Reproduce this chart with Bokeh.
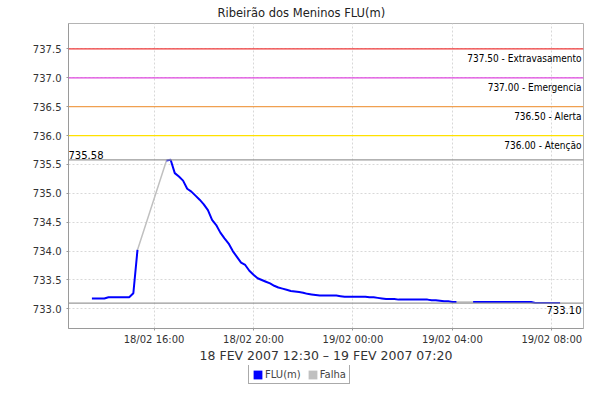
import numpy as np
import pandas as pd
from bokeh.plotting import figure
from bokeh.layouts import column
from bokeh.models import (Range1d, Span, Label, Legend, LegendItem, FixedTicker,
                          ColumnDataSource)
from bokeh.embed import file_html
from bokeh.resources import INLINE

# ---------------- data ----------------
title_text = "Ribeirão dos Meninos FLU(m)"
x_axis_label = "18 FEV 2007 12:30 \u2013 19 FEV 2007 07:20"
series_name = "FLU(m)"
gap_name = "Falha"

start_time = "2007-02-18 13:30"
step_minutes = 10
# level readings every 10 minutes (None = no data / "Falha")
flu_values = [
    # 13:30 .. 15:20
    733.18, 733.18, 733.18, 733.18, 733.20, 733.20, 733.20, 733.20, 733.20, 733.20, 733.27, 734.02,
    # 15:30 .. 16:20 (gap)
    None, None, None, None, None, None,
    # 16:30 .. 17:20
    735.57, 735.58, 735.35, 735.29, 735.22, 735.08,
    # 17:30 .. 18:20
    735.03, 734.96, 734.89, 734.81, 734.71, 734.54,
    # 18:30 .. 19:20
    734.45, 734.32, 734.22, 734.13, 734.00, 733.90,
    # 19:30 .. 20:20
    733.80, 733.76, 733.66, 733.59, 733.53, 733.50,
    # 20:30 .. 21:20
    733.47, 733.44, 733.40, 733.37, 733.35, 733.33,
    # 21:30 .. 22:20
    733.31, 733.30, 733.29, 733.28, 733.26, 733.25,
    # 22:30 .. 23:20
    733.24, 733.23, 733.23, 733.23, 733.23, 733.23,
    # 23:30 .. 00:20
    733.22, 733.21, 733.21, 733.21, 733.21, 733.21,
    # 00:30 .. 01:20
    733.21, 733.20, 733.20, 733.19, 733.18, 733.17,
    # 01:30 .. 02:20
    733.17, 733.17, 733.16, 733.16, 733.16, 733.16,
    # 02:30 .. 03:20
    733.16, 733.16, 733.16, 733.16, 733.15, 733.15,
    # 03:30 .. 04:10
    733.14, 733.13, 733.13, 733.12, 733.12,
    # 04:20 .. 04:40 (gap)
    None, None, None,
    # 04:50 .. 05:40
    733.12, 733.12, 733.12, 733.12, 733.12, 733.12,
    # 05:50 .. 06:40
    733.12, 733.12, 733.12, 733.12, 733.12, 733.12,
    # 06:50 .. 07:40
    733.12, 733.12, 733.12, 733.10, 733.10, 733.10,
    # 07:50 .. 08:20
    733.10, 733.10, 733.10, 733.10,
]

limit_values = [737.50, 737.00, 736.50, 736.00]
limit_names = ["Extravasamento", "Emergencia", "Alerta", "Atenção"]
limit_colors = ["#f03a3a", "#e048e0", "#f0a050", "#ffe100"]

y_ticks = [733.0, 733.5, 734.0, 734.5, 735.0, 735.5, 736.0, 736.5, 737.0, 737.5]
y_tick_labels = ["733.0", "733.5", "734.0", "734.5", "735.0", "735.5", "736.0", "736.5", "737.0", "737.5"]
x_tick_times = ["2007-02-18 16:00", "2007-02-18 20:00", "2007-02-19 00:00",
                "2007-02-19 04:00", "2007-02-19 08:00"]
x_tick_labels = ["18/02 16:00", "18/02 20:00", "19/02 00:00", "19/02 04:00", "19/02 08:00"]

# ---------------- derived ----------------
times = pd.date_range(start_time, periods=len(flu_values), freq=f"{step_minutes}min")
t_ms = (times.astype("int64") // 10**6).to_numpy().astype(float)
vals = np.array([np.nan if v is None else v for v in flu_values], dtype=float)

# gap (Falha) segments connect the last reading before and first after each gap
gx, gy = [], []
valid = ~np.isnan(vals)
i = 0
n = len(vals)
while i < n:
    if not valid[i]:
        j = i
        while j < n and not valid[j]:
            j += 1
        if i > 0 and j < n:
            gx += [t_ms[i - 1], t_ms[j], np.nan]
            gy += [vals[i - 1], vals[j], np.nan]
        i = j
    else:
        i += 1
gx = np.array(gx, dtype=float)
gy = np.array(gy, dtype=float)

vmax = float(np.nanmax(vals))
vmin = float(np.nanmin(vals))

span_t = t_ms[-1] - t_ms[0]
x_start = float(t_ms[0] - span_t * 0.05)
x_end = float(t_ms[-1] + span_t * 0.05)
lo = min(vmin, min(limit_values))
hi = max(vmax, max(limit_values))
y_start = lo - (hi - lo) * 0.1
y_end = hi + (hi - lo) * 0.1

FONT = "DejaVu Sans"
FONT_C = "DejaVu Sans Condensed"

p = figure(width=584, height=365, x_axis_type="datetime",
           x_range=Range1d(x_start, x_end), y_range=Range1d(y_start, y_end),
           output_backend="svg", toolbar_location=None,
           min_border_left=68, min_border_right=1, min_border_top=23, min_border_bottom=30)

p.title.text = title_text
p.title.align = "left"
p.title.offset = 149
p.title.text_font = FONT
p.title.text_font_size = "11.5px"
p.title.text_font_style = "normal"
p.title.text_color = "#222222"
p.title.standoff = 7

p.background_fill_color = "white"
p.border_fill_color = "white"
p.outline_line_color = "#b4b4b4"
p.outline_line_width = 1

for g in (p.xgrid, p.ygrid):
    g.grid_line_color = "#d8d8d8"
    g.grid_line_dash = "2 2"
    g.grid_line_width = 1

# axes
p.yaxis.ticker = FixedTicker(ticks=y_ticks)
p.yaxis.major_label_overrides = {t: l for t, l in zip(y_ticks, y_tick_labels)}
tick_ms = [int(pd.Timestamp(t).value // 10**6) for t in x_tick_times]
p.xaxis.ticker = FixedTicker(ticks=tick_ms)
p.xaxis.major_label_overrides = {t: l for t, l in zip(tick_ms, x_tick_labels)}

for ax in (p.xaxis, p.yaxis):
    ax.axis_line_color = "#9a9a9a"
    ax.major_tick_line_color = "#9a9a9a"
    ax.major_tick_out = 2
    ax.major_tick_in = 0
    ax.minor_tick_out = 0
    ax.minor_tick_in = 0
    ax.major_label_text_font = FONT
    ax.major_label_text_font_size = "10px"
    ax.major_label_text_color = "#333333"
    ax.major_label_standoff = 5
p.xaxis.major_label_standoff = 3

p.xaxis.axis_label = x_axis_label
p.xaxis.axis_label_text_font = FONT
p.xaxis.axis_label_text_font_size = "12.5px"
p.xaxis.axis_label_text_font_style = "normal"
p.xaxis.axis_label_text_color = "#333333"
p.xaxis.axis_label_standoff = 0

# data lines
r_gap = p.line(x="x", y="y", source=ColumnDataSource(dict(x=gx, y=gy)),
               line_color="#c0c0c0", line_width=1.5)
r_flu = p.line(x="x", y="y", source=ColumnDataSource(dict(x=t_ms, y=vals)),
               line_color="#0000ff", line_width=2)

# max / min markers
for v, align, base, yoff in ((vmax, "left", "bottom", 1), (vmin, "right", "top", -3)):
    p.add_layout(Span(location=v, dimension="width", line_color="#999999", line_width=1.2))
    p.add_layout(Label(x=x_start if align == "left" else x_end, y=v, text=f"{v:.2f}",
                       text_align=align, text_baseline=base, y_offset=yoff,
                       x_offset=0 if align == "left" else -2,
                       text_font=FONT, text_font_size="10px", text_color="black"))

# threshold lines
for v, name, c in zip(limit_values, limit_names, limit_colors):
    p.add_layout(Span(location=v, dimension="width", line_color=c, line_width=1.2))
    p.add_layout(Label(x=x_end, y=v, text=f"{v:.2f} - {name}", text_align="right",
                       text_baseline="top", y_offset=-4, x_offset=-2,
                       text_font=FONT_C, text_font_size="10px", text_color="black"))

# ---------------- legend strip ----------------
lf = figure(width=584, height=19, x_range=Range1d(0, 1), y_range=Range1d(0, 1),
            output_backend="svg", toolbar_location=None,
            x_axis_location=None, y_axis_location=None,
            min_border_left=68, min_border_right=1, min_border_top=0, min_border_bottom=0)
lf.grid.visible = False
lf.outline_line_color = None
lf.background_fill_color = "white"
lf.border_fill_color = "white"

# legend swatch renderers (their single box lies outside the visible range)
d1 = lf.quad(left=[-6], right=[-5], bottom=[-6], top=[-5], fill_color="#0000ff", line_color=None)
d2 = lf.quad(left=[-6], right=[-5], bottom=[-6], top=[-5], fill_color="#c0c0c0", line_color=None)
legend = Legend(items=[LegendItem(label=series_name, renderers=[d1]),
                       LegendItem(label=gap_name, renderers=[d2])],
                orientation="horizontal", location=(180, 0),
                label_text_font=FONT, label_text_font_size="10px",
                label_height=12, glyph_height=11, glyph_width=11,
                label_standoff=2, spacing=6, padding=3, margin=0,
                border_line_color="#555555", border_line_width=1,
                background_fill_color="white")
lf.add_layout(legend, "center")

root = column(p, lf, spacing=0)
open("out.html", "w").write(file_html(root, INLINE))
